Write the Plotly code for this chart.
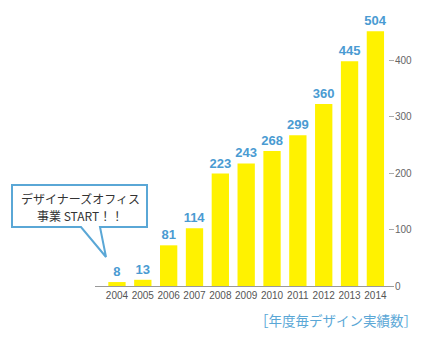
import plotly.graph_objects as go

years = ["2004", "2005", "2006", "2007", "2008", "2009", "2010", "2011", "2012", "2013", "2014"]
bar_heights = [7, 11, 72, 102, 199, 217, 239, 267, 322, 398, 451]
value_labels = ["8", "13", "81", "114", "223", "243", "268", "299", "360", "445", "504"]
y_ticks = [0, 100, 200, 300, 400]
callout_lines = ["デザイナーズオフィス", "事業 START！！"]

W, H = 425, 340
def px(x):
    return x / W
def py(y):
    return 1 - y / H

tick_family = "Liberation Sans, Arial, sans-serif"

fig = go.Figure()
fig.add_trace(go.Bar(
    x=years, y=bar_heights,
    marker=dict(color="#FFF200", line=dict(width=0)),
    text=value_labels, textposition="outside", constraintext="none",
    textfont=dict(family="Liberation Sans", size=13, color="#4A9BD2", weight="bold"),
    cliponaxis=False, hoverinfo="skip",
))

callout = (f"M {px(12)},{py(185)} L {px(147)},{py(185)} L {px(147)},{py(227)} "
           f"L {px(100)},{py(227)} L {px(106)},{py(257)} L {px(81)},{py(227)} "
           f"L {px(12)},{py(227)} Z")
fig.add_shape(type="path", xref="paper", yref="paper", path=callout,
              line=dict(color="#5AA7D6", width=2), fillcolor="white")

for line, yy in zip(callout_lines, [198.5, 215.5]):
    fig.add_annotation(xref="paper", yref="paper", x=px(80), y=py(yy), text=line,
                       showarrow=False, xanchor="center", yanchor="middle",
                       font=dict(family="Noto Sans CJK JP", size=12, color="#333333"))
fig.add_annotation(xref="paper", yref="paper", x=px(419), y=py(320), text="［年度毎デザイン実績数］",
                   showarrow=False, xanchor="right", yanchor="middle",
                   font=dict(family="Noto Sans CJK JP", size=13.5, color="#5AA7D6"))

fig.update_layout(
    width=W, height=H, margin=dict(l=0, r=0, t=0, b=0),
    paper_bgcolor="white", plot_bgcolor="white",
    bargap=0.33, showlegend=False,
    xaxis=dict(domain=[px(95), px(394)], type="category", range=[-0.85, 10.72],
               showline=True, linecolor="#999999", linewidth=1, ticks="", tickangle=0,
               showgrid=False, zeroline=False, automargin=False,
               tickfont=dict(family=tick_family, size=10, color="#555555")),
    yaxis=dict(domain=[py(286), py(15)], range=[0, 271 / 0.565], side="right",
               tickvals=y_ticks, ticktext=[str(v) for v in y_ticks],
               ticks="inside", ticklen=5, tickcolor="#AAAAAA",
               showline=False, showgrid=False, zeroline=False, automargin=False,
               tickfont=dict(family=tick_family, size=10, color="#666666")),
)

fig.write_html("out.html")
